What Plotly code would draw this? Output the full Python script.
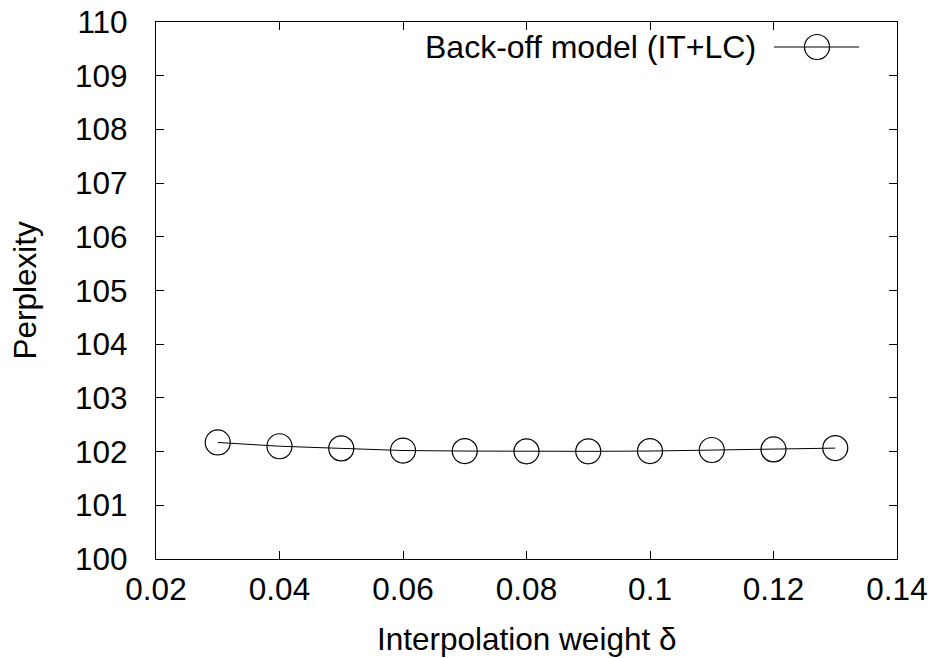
import plotly.graph_objects as go

# Data
weights = [0.03, 0.04, 0.05, 0.06, 0.07, 0.08, 0.09, 0.10, 0.11, 0.12, 0.13]
perplexity = [102.17, 102.10, 102.06, 102.02, 102.01, 102.005, 102.005, 102.01, 102.03, 102.04, 102.065]
series_name = "Back-off model (IT+LC)"
x_title = "Interpolation weight δ"
y_title = "Perplexity"
x_tickvals = [0.02, 0.04, 0.06, 0.08, 0.10, 0.12, 0.14]
x_ticktext = ["0.02", "0.04", "0.06", "0.08", "0.1", "0.12", "0.14"]
y_tickvals = list(range(100, 111))

FONT = "Liberation Sans, Arial, Helvetica, sans-serif"
FS = 31.5

W, H = 938, 658
L, R, T, B = 156, 41, 22, 99
pw, ph = W - L - R, H - T - B


def px_x(page_x):
    return (page_x - L) / pw


def px_y(page_y):
    return 1 - (page_y - T) / ph


fig = go.Figure()
fig.add_trace(go.Scatter(
    x=weights, y=perplexity, mode="lines+markers", name=series_name,
    line=dict(color="black", width=1),
    marker=dict(symbol="circle-open", size=25, color="black", line=dict(width=1.2, color="black")),
    showlegend=False,
))

axis_common = dict(
    showline=True, linecolor="black", linewidth=1.2, mirror="allticks",
    ticks="inside", ticklen=8, tickwidth=1, tickcolor="black",
    showgrid=False, zeroline=False, automargin=False,
    ticklabeloverflow="allow",
    tickfont=dict(family=FONT, size=FS, color="black"),
)

fig.update_layout(
    width=W, height=H,
    margin=dict(l=L, r=R, t=T, b=B),
    paper_bgcolor="white", plot_bgcolor="white",
    font=dict(family=FONT, size=FS, color="black"),
    xaxis=dict(range=[0.02, 0.14], tickvals=x_tickvals, ticktext=x_ticktext,
               ticklabelstandoff=2, **axis_common),
    yaxis=dict(range=[100, 110], tickvals=y_tickvals,
               ticklabelstandoff=21, **axis_common),
)

# Axis titles
fig.add_annotation(x=0.5, y=px_y(639), xref="paper", yref="paper",
                   text=x_title, showarrow=False, xanchor="center", yanchor="middle",
                   font=dict(family=FONT, size=FS, color="black"))
fig.add_annotation(x=px_x(24), y=0.5, xref="paper", yref="paper",
                   text=y_title, showarrow=False, textangle=-90, xanchor="center", yanchor="middle",
                   font=dict(family=FONT, size=FS, color="black"))

# Manual legend (text left of sample, gnuplot style)
leg_y = px_y(47)
fig.add_annotation(x=px_x(758), y=leg_y, xref="paper", yref="paper",
                   text=series_name, showarrow=False, xanchor="right", yanchor="middle",
                   font=dict(family=FONT, size=32, color="black"))
fig.add_shape(type="line", xref="paper", yref="paper",
              x0=px_x(774), x1=px_x(859), y0=leg_y, y1=leg_y,
              line=dict(color="black", width=1))
fig.add_shape(type="circle", xref="paper", yref="paper",
              xsizemode="pixel", ysizemode="pixel", xanchor=px_x(817), yanchor=leg_y,
              x0=-12.5, x1=12.5, y0=-12.5, y1=12.5,
              line=dict(color="black", width=1.2), fillcolor="rgba(0,0,0,0)")

fig.write_html("out.html",
               config={"displayModeBar": False},
               post_script="document.body.style.margin='0';document.body.style.padding='0';")
